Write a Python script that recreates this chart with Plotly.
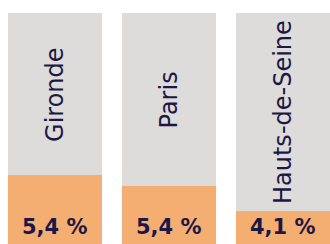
import plotly.graph_objects as go

categories = ["Gironde", "Paris", "Hauts-de-Seine"]
value_labels = ["5,4 %", "5,4 %", "4,1 %"]
values = [5.4, 5.4, 4.1]
# filled portion of each column (column = 100)
fill_level = [29.9, 25.1, 14.3]
column_full = [100, 100, 100]

x = list(range(len(categories)))
GRAY = "#dedbdb"
ORANGE = "#f5ae72"
NAVY = "#1c1846"

fig = go.Figure()
fig.add_trace(go.Bar(x=x, y=column_full, width=0.825, marker=dict(color=GRAY, line=dict(width=0)),
                     hoverinfo="skip", showlegend=False))
fig.add_trace(go.Bar(x=x, y=fill_level, width=0.825, marker=dict(color=ORANGE, line=dict(width=0)),
                     customdata=values, hovertemplate="%{customdata}<extra></extra>", showlegend=False))

for i, (cat, lab, f) in enumerate(zip(categories, value_labels, fill_level)):
    fig.add_annotation(x=i, y=(100 + f) / 2, text=cat, textangle=-90, showarrow=False,
                       font=dict(family="DejaVu Sans", size=24, color=NAVY))
    fig.add_annotation(x=i, y=0, yanchor="bottom", yshift=3, text=f"<b>{lab}</b>", showarrow=False,
                       font=dict(family="DejaVu Sans", size=21, color=NAVY))

fig.update_layout(
    width=330, height=244, barmode="overlay",
    margin=dict(l=0, r=0, t=13, b=0),
    paper_bgcolor="white", plot_bgcolor="white",
    xaxis=dict(range=[-0.482, 2.412], visible=False, fixedrange=True),
    yaxis=dict(range=[0, 100], visible=False, fixedrange=True),
)
fig.write_html("out.html", config={"displayModeBar": False, "responsive": False},
               post_script="document.body.style.margin='0';document.body.style.overflow='hidden';")
